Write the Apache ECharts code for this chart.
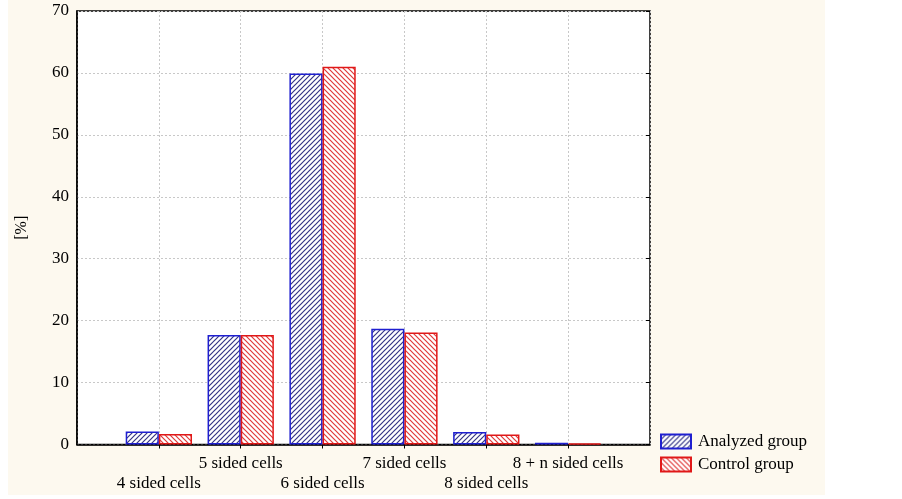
<!DOCTYPE html>
<html><head><meta charset="utf-8">
<script src="https://cdn.jsdelivr.net/npm/echarts@6/dist/echarts.min.js"></script>
<style>html,body{margin:0;padding:0;background:#fff}#c{width:902px;height:499px}</style>
</head><body><div id="c"></div>
<script>
const categories = ['', '4 sided cells', '5 sided cells', '6 sided cells', '7 sided cells', '8 sided cells', '8 + n sided cells', ''];
const analyzed = [null, 2.1, 17.7, 59.9, 18.7, 2.0, 0.3, null];
const control = [null, 1.7, 17.7, 61.0, 18.1, 1.6, 0.2, null];
const yTicks = [0, 10, 20, 30, 40, 50, 60, 70];

function hatch(color, forward) {
  const s = 5, c = document.createElement('canvas');
  c.width = s; c.height = s;
  const g = c.getContext('2d');
  g.fillStyle = '#ffffff'; g.fillRect(0, 0, s, s);
  g.strokeStyle = color; g.lineWidth = 1.2;
  g.beginPath();
  if (forward) {
    g.moveTo(0, s); g.lineTo(s, 0);
    g.moveTo(-1, 1); g.lineTo(1, -1);
    g.moveTo(s - 1, s + 1); g.lineTo(s + 1, s - 1);
  } else {
    g.moveTo(0, 0); g.lineTo(s, s);
    g.moveTo(-1, s - 1); g.lineTo(1, s + 1);
    g.moveTo(s - 1, -1); g.lineTo(s + 1, 1);
  }
  g.stroke();
  return { image: c, repeat: 'repeat' };
}

const font = '"Liberation Serif", "DejaVu Serif", serif';
const chart = echarts.init(document.getElementById('c'), null, { renderer: 'canvas' });
chart.setOption({
  animation: false,
  backgroundColor: '#ffffff',
  graphic: [{ type: 'rect', z: -10, silent: true, shape: { x: 8, y: 0, width: 817, height: 495 }, style: { fill: '#fdf9ef' } }],
  grid: { left: 77, right: 252, top: 11, bottom: 54.5, show: true, backgroundColor: '#ffffff', borderColor: '#000', borderWidth: 1.5 },
  legend: {
    orient: 'vertical', left: 655, top: 428, itemWidth: 30, itemHeight: 14, itemGap: 6, icon: 'rect',
    textStyle: { fontFamily: font, fontSize: 17, color: '#000', padding: [0, 0, 0, 2] },
    data: ['Analyzed group', 'Control group']
  },
  xAxis: [{
    type: 'category', data: categories, boundaryGap: false,
    axisLine: { show: true, lineStyle: { color: '#000', width: 1.5 } },
    axisTick: { show: false },
    splitLine: { show: true, lineStyle: { color: '#c8c8c8', type: [2, 2], width: 1 } },
    axisLabel: {
      interval: 0, fontFamily: font, fontSize: 17, color: '#000', margin: 9, lineHeight: 20,
      formatter: (v, i) => (i % 2 === 1 ? '\n' + v : v)
    }
  }, {
    type: 'category', data: categories, boundaryGap: false, position: 'top',
    axisLine: { show: false }, axisLabel: { show: false },
    axisTick: { show: true, inside: true, length: 4, interval: (i) => i > 0 && i < 7, lineStyle: { color: '#000' } }
  }],
  yAxis: [{
    type: 'value', min: 0, max: 70, interval: 10,
    name: '[%]', nameLocation: 'middle', nameGap: 47, nameRotate: 90,
    nameTextStyle: { fontFamily: font, fontSize: 16, color: '#000' },
    axisLine: { show: true, lineStyle: { color: '#000', width: 1.5 } },
    axisTick: { show: false },
    splitLine: { show: true, lineStyle: { color: '#c8c8c8', type: [2, 2], width: 1 } },
    axisLabel: { fontFamily: font, fontSize: 17, color: '#000', margin: 8,
      formatter: (v) => (yTicks.indexOf(v) >= 0 ? String(v) : '') }
  }, {
    type: 'value', min: 0, max: 70, interval: 10, position: 'right',
    axisLine: { show: false }, axisLabel: { show: false }, splitLine: { show: false },
    axisTick: { show: true, inside: true, length: 4, lineStyle: { color: '#000' } }
  }],
  series: [{
    name: 'Analyzed group', type: 'bar', data: analyzed, barGap: '0%', barCategoryGap: '19%',
    itemStyle: { color: hatch('#343486', true), borderColor: '#1f1fd0', borderWidth: 1.5 }
  }, {
    name: 'Control group', type: 'bar', data: control, barGap: '0%', barCategoryGap: '19%',
    itemStyle: { color: hatch('#e03a3a', false), borderColor: '#e01818', borderWidth: 1.5 }
  }]
});
</script></body></html>
